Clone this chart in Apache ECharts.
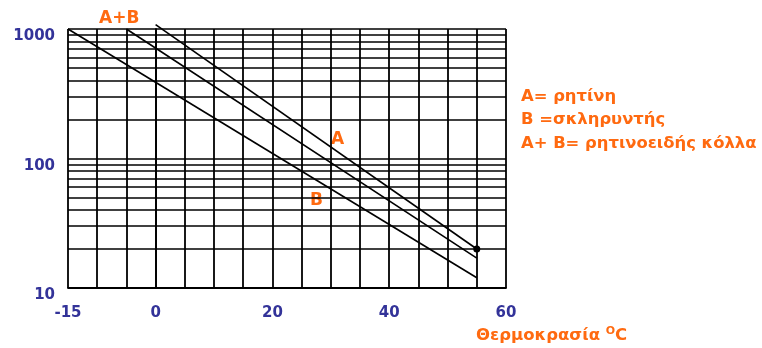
<!DOCTYPE html>
<html lang="el">
<head>
<meta charset="utf-8">
<title>Θερμοκρασία - χρόνος</title>
<script src="https://cdn.jsdelivr.net/npm/echarts@6/dist/echarts.min.js"></script>
<style>
  html, body { margin: 0; padding: 0; background: #fff; }
  #chart { width: 762px; height: 348px; }
</style>
</head>
<body>
<div id="chart"></div>
<script>
// x ticks that carry a label
var xLabels = [-15, 0, 20, 40, 60];
// log grid lines between the decades
var yMinor = [20, 30, 40, 50, 60, 70, 80, 90, 200, 300, 400, 500, 600, 700, 800, 900];
// the three curves (temperature, value)
var lineA = [[0, 1080], [55, 20]];
var lineAB = [[-5, 1000], [55, 17]];
var lineB = [[-15, 1000], [55, 12]];

var blue = '#333399';
var orange = '#ff6a10';
var font = 'DejaVu Sans';

var chart = echarts.init(document.getElementById('chart'));

function curve(name, pts, endDot) {
  return {
    name: name,
    type: 'line',
    clip: false,
    data: pts.map(function (p, i) {
      var last = i === pts.length - 1;
      return {
        value: p,
        symbol: last && endDot ? 'circle' : 'none',
        symbolSize: 7
      };
    }),
    lineStyle: { color: '#000', width: 1.6 },
    itemStyle: { color: '#000' },
    silent: true
  };
}

var option = {
  animation: false,
  backgroundColor: '#fff',
  grid: { left: 68, right: 256, top: 29, bottom: 60 },
  xAxis: {
    type: 'value',
    min: -15,
    max: 60,
    interval: 5,
    axisLine: { show: true, onZero: false, lineStyle: { color: '#000', width: 1.8 } },
    axisTick: { show: false },
    splitLine: { show: true, lineStyle: { color: '#000', width: 1.8 } },
    axisLabel: {
      margin: 18,
      color: blue,
      fontFamily: font,
      fontWeight: 'bold',
      fontSize: 15,
      formatter: function (v) {
        return xLabels.indexOf(v) >= 0 ? String(v) : '';
      }
    }
  },
  yAxis: {
    type: 'log',
    logBase: 10,
    min: 10,
    max: 1000,
    axisLine: { show: true, lineStyle: { color: '#000', width: 1.8 } },
    axisTick: { show: false },
    splitLine: { show: true, lineStyle: { color: '#000', width: 1.6 } },
    axisLabel: {
      margin: 13,
      color: blue,
      fontFamily: font,
      fontWeight: 'bold',
      fontSize: 15,
      verticalAlign: 'top',
      formatter: function (v) { return String(Math.round(v)); }
    }
  },
  series: [
    {
      name: 'grid',
      type: 'line',
      data: [],
      silent: true,
      markLine: {
        silent: true,
        symbol: 'none',
        label: { show: false },
        lineStyle: { color: '#000', width: 1.5, type: 'solid' },
        data: yMinor.map(function (v) { return { yAxis: v }; })
      }
    },
    curve('A', lineA, true),
    curve('A+B', lineAB, false),
    curve('B', lineB, false)
  ],
  graphic: [
    { type: 'text', left: 99, top: 10,
      style: { text: 'A+B', fill: orange, font: 'bold 17px "DejaVu Sans"' } },
    { type: 'text', left: 331, top: 131,
      style: { text: 'A', fill: orange, font: 'bold 17px "DejaVu Sans"' } },
    { type: 'text', left: 310, top: 192,
      style: { text: 'B', fill: orange, font: 'bold 17px "DejaVu Sans"' } },
    { type: 'text', left: 521, top: 89,
      style: { text: 'A= ρητίνη', fill: orange, font: 'bold 16.4px "DejaVu Sans"' } },
    { type: 'text', left: 521, top: 112,
      style: { text: 'B =σκληρυντής', fill: orange, font: 'bold 16.4px "DejaVu Sans"' } },
    { type: 'text', left: 521, top: 136,
      style: { text: 'A+ B= ρητινοειδής κόλλα', fill: orange, font: 'bold 16.4px "DejaVu Sans"' } },
    { type: 'text', left: 476, top: 326,
      style: {
        text: 'Θερμοκρασία {s|O}C',
        fill: orange,
        font: 'bold 16.5px "DejaVu Sans"',
        rich: { s: { fontSize: 11, fontWeight: 'bold', fontFamily: font, verticalAlign: 'top', padding: [0, 0, 8, 0] } }
      } }
  ]
};

chart.setOption(option);
</script>
</body>
</html>
